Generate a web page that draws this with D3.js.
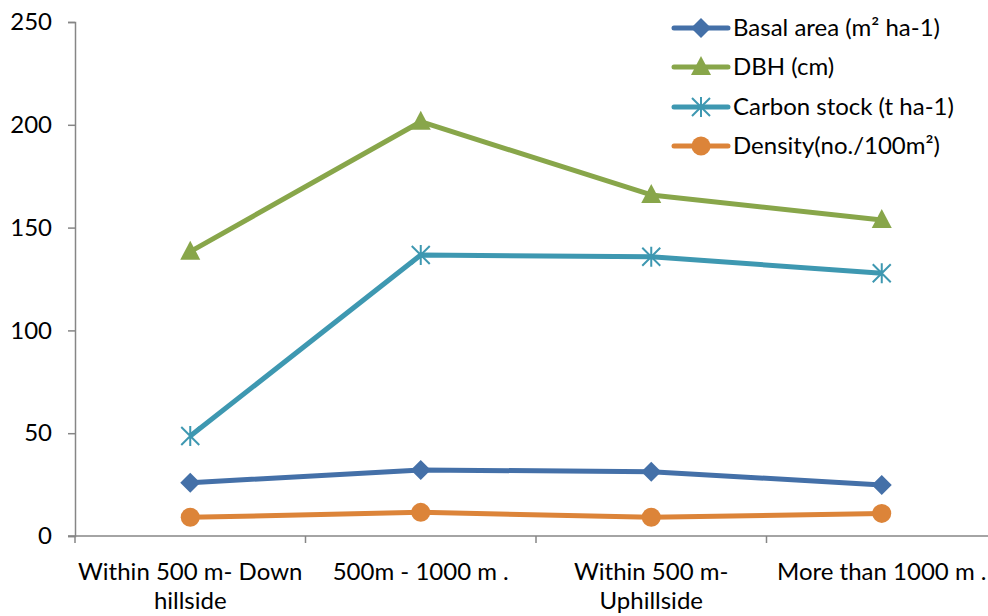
<!DOCTYPE html>
<html>
<head>
<meta charset="utf-8">
<script src="https://cdn.jsdelivr.net/npm/d3@7"></script>
<style>
  html, body { margin: 0; padding: 0; background: #fff; }
  svg { display: block; font-family: Lato, "Open Sans", sans-serif; }
</style>
</head>
<body>
<svg id="chart" width="988" height="616"></svg>
<script>
// Sites along the slope
const categories = [
  ["Within 500 m- Down", "hillside"],
  ["500m - 1000 m ."],
  ["Within 500 m-", "Uphillside"],
  ["More than 1000 m ."]
];
const seriesNames = ["Basal area (m² ha-1)", "DBH (cm)", "Carbon stock (t ha-1)", "Density(no./100m²)"];
const basalArea = [25.9, 32.1, 31.3, 24.8];
const dbh = [138.3, 201.5, 165.9, 153.7];
const carbonStock = [48.6, 136.7, 135.8, 127.8];
const density = [9.1, 11.5, 9.1, 11.0];
const yTicks = [0, 50, 100, 150, 200, 250];

const colors = ["#4470A8", "#88A64A", "#3E98B1", "#DC8439"];
const markers = ["diamond", "triangle", "star", "circle"];
const seriesValues = [basalArea, dbh, carbonStock, density];

const FONT = 24;
const svg = d3.select("#chart");
const margin = { left: 75, right: -9, top: 22, bottom: 80 };
const W = 988, H = 616;

const x = d3.scaleBand()
  .domain(d3.range(categories.length))
  .range([margin.left, W - margin.right])
  .padding(0);
const y = d3.scaleLinear().domain([0, 250]).range([536, 22]);

// Y axis
const yAxis = svg.append("g").attr("transform", `translate(${margin.left},0)`)
  .call(d3.axisLeft(y).tickValues(yTicks).tickSize(7).tickPadding(16));
yAxis.select(".domain").attr("stroke", "#868686").attr("stroke-width", 1.5);
yAxis.selectAll(".tick line").attr("stroke", "#868686").attr("stroke-width", 1.5);
yAxis.selectAll(".tick text").attr("font-size", FONT).attr("fill", "#000")
  .attr("font-family", "Lato, 'Open Sans', sans-serif");

// X axis with ticks between categories
const xAxisG = svg.append("g").attr("transform", `translate(0,${y(0)})`);
xAxisG.append("line")
  .attr("x1", margin.left - 7).attr("x2", W)
  .attr("stroke", "#868686").attr("stroke-width", 1.5);
const boundaries = d3.range(categories.length + 1).map(i =>
  i < categories.length ? x(i) : x(categories.length - 1) + x.bandwidth());
xAxisG.selectAll("line.tk").data(boundaries).join("line")
  .attr("class", "tk")
  .attr("x1", d => d).attr("x2", d => d)
  .attr("y1", 0).attr("y2", 7)
  .attr("stroke", "#868686").attr("stroke-width", 1.5);

const labelG = svg.append("g");
categories.forEach((lines, i) => {
  const t = labelG.append("text")
    .attr("x", x(i) + x.bandwidth() / 2)
    .attr("y", 580)
    .attr("text-anchor", "middle")
    .attr("font-size", FONT)
    .attr("fill", "#000");
  lines.forEach((ln, j) => {
    t.append("tspan")
      .attr("x", x(i) + x.bandwidth() / 2)
      .attr("dy", j === 0 ? 0 : 29)
      .text(ln);
  });
});

function drawMarker(g, type, cx, cy, color) {
  if (type === "diamond") {
    g.append("path")
      .attr("d", `M${cx},${cy - 10}L${cx + 10},${cy}L${cx},${cy + 10}L${cx - 10},${cy}Z`)
      .attr("fill", color);
  } else if (type === "triangle") {
    g.append("path")
      .attr("d", `M${cx},${cy - 11}L${cx + 10},${cy + 8}L${cx - 10},${cy + 8}Z`)
      .attr("fill", color);
  } else if (type === "star") {
    const r = 9;
    const p = [];
    p.push(`M${cx - r},${cy - r}L${cx + r},${cy + r}`);
    p.push(`M${cx - r},${cy + r}L${cx + r},${cy - r}`);
    p.push(`M${cx},${cy - r - 1}L${cx},${cy + r + 1}`);
    g.append("path").attr("d", p.join(""))
      .attr("stroke", color).attr("stroke-width", 2).attr("fill", "none");
  } else {
    g.append("circle").attr("cx", cx).attr("cy", cy).attr("r", 9.5).attr("fill", color);
  }
}

const line = d3.line()
  .x((d, i) => x(i) + x.bandwidth() / 2)
  .y(d => y(d));

seriesValues.forEach((vals, s) => {
  const g = svg.append("g");
  g.append("path").datum(vals)
    .attr("d", line)
    .attr("fill", "none")
    .attr("stroke", colors[s])
    .attr("stroke-width", 5)
    .attr("stroke-linejoin", "round");
  vals.forEach((v, i) => drawMarker(g, markers[s], x(i) + x.bandwidth() / 2, y(v), colors[s]));
});

// Legend
const legend = svg.append("g");
const legendY = [28, 67, 107, 146];
seriesNames.forEach((name, s) => {
  const g = legend.append("g");
  g.append("line")
    .attr("x1", 674).attr("x2", 728)
    .attr("y1", legendY[s]).attr("y2", legendY[s])
    .attr("stroke", colors[s]).attr("stroke-width", 5)
    .attr("stroke-linecap", "round");
  drawMarker(g, markers[s], 701, legendY[s], colors[s]);
  g.append("text")
    .attr("x", 733).attr("y", legendY[s] + 8)
    .attr("font-size", FONT).attr("fill", "#000")
    .text(name);
});
</script>
</body>
</html>
